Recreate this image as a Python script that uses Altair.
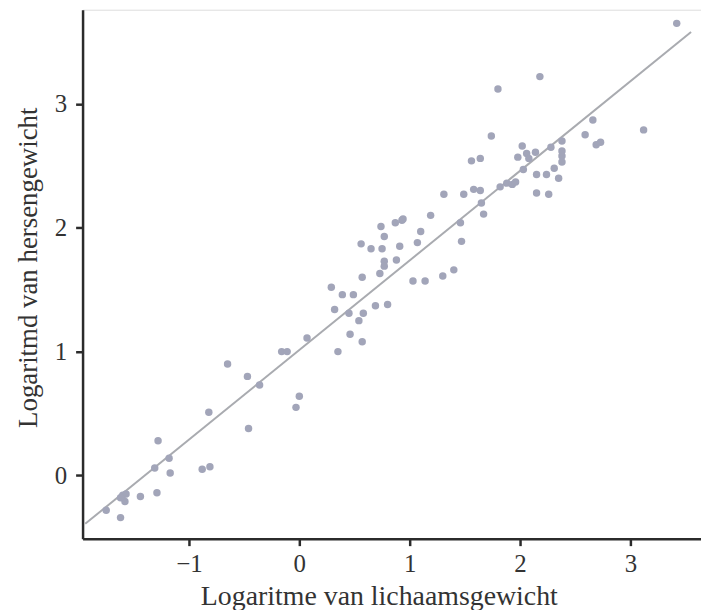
import altair as alt
import pandas as pd

# Log body weight (x) and log brain weight (y)
x_vals = [3.42, 2.18, 1.80, 1.74, 2.66, 2.59, 3.12, 2.69, 2.73, 2.38,
          2.02, 2.28, 1.98, 2.06, 2.14, 2.08, 2.38, 2.38, 2.38, 1.56,
          1.64, 2.03, 2.31, 2.15, 2.24, 2.35, 1.82, 1.88, 1.93, 1.96,
          2.15, 2.26, 1.31, 1.49, 1.58, 1.64, 1.65, 1.67, 1.46, 1.19,
          1.10, 1.07, 0.91, 0.87, 0.93, 0.94, 0.74, 0.77, 0.75, 0.77,
          0.77, 0.73, 0.88, 1.47, 1.40, 1.30, 1.03, 1.14, 0.56, 0.65,
          0.57, 0.29, 0.39, 0.49, 0.32, 0.45, 0.58, 0.69, 0.80, 0.54,
          0.46, 0.57, 0.35, 0.07, -0.16, -0.11, -0.65, -0.47, -0.36, 0.00,
          -0.03, -0.82, -0.46, -1.28, -1.18, -1.31, -1.17, -0.88, -0.81, -1.60,
          -1.57, -1.58, -1.62, -1.44, -1.29, -1.75, -1.62]
y_vals = [3.65, 3.22, 3.12, 2.74, 2.87, 2.75, 2.79, 2.67, 2.69, 2.70,
          2.66, 2.65, 2.57, 2.60, 2.61, 2.56, 2.62, 2.58, 2.53, 2.54,
          2.56, 2.47, 2.48, 2.43, 2.43, 2.40, 2.33, 2.36, 2.35, 2.37,
          2.28, 2.27, 2.27, 2.27, 2.31, 2.30, 2.20, 2.11, 2.04, 2.10,
          1.97, 1.88, 1.85, 2.04, 2.06, 2.07, 2.01, 1.93, 1.83, 1.73,
          1.69, 1.63, 1.74, 1.89, 1.66, 1.61, 1.57, 1.57, 1.87, 1.83,
          1.60, 1.52, 1.46, 1.46, 1.34, 1.31, 1.31, 1.37, 1.38, 1.25,
          1.14, 1.08, 1.00, 1.11, 1.00, 1.00, 0.90, 0.80, 0.73, 0.64,
          0.55, 0.51, 0.38, 0.28, 0.14, 0.06, 0.02, 0.05, 0.07, -0.16,
          -0.15, -0.21, -0.18, -0.17, -0.14, -0.28, -0.34]

# Fitted line endpoints as drawn
line_x = [-1.94, 3.55]
line_y = [-0.39, 3.58]

x_ticks = [-1, 0, 1, 2, 3]
y_ticks = [0, 1, 2, 3]

pts = pd.DataFrame({"x": x_vals, "y": y_vals})
ln = pd.DataFrame({"x": line_x, "y": line_y})

FONT = "Liberation Serif"
xs = alt.Scale(domain=[-1.964, 3.64], nice=False, zero=False)
ys = alt.Scale(domain=[-0.51, 3.76], nice=False, zero=False)

x_axis = alt.Axis(values=x_ticks, format="d", title="Logaritme van lichaamsgewicht",
                  grid=False, domainColor="#2b2b2b", domainWidth=2.5,
                  tickColor="#2b2b2b", tickWidth=2.5, tickSize=7,
                  labelFont=FONT, labelFontSize=25, labelColor="#333333",
                  labelPadding=6, titleFont=FONT, titleFontSize=28,
                  titleFontWeight="normal", titleColor="#333333",
                  titleX=298, titleY=58, titleBaseline="middle")
y_axis = alt.Axis(values=y_ticks, format="d", title="Logaritmd van hersengewicht",
                  grid=False, domainColor="#2b2b2b", domainWidth=2.5,
                  tickColor="#2b2b2b", tickWidth=2.5, tickSize=7,
                  labelFont=FONT, labelFontSize=25, labelColor="#333333",
                  labelPadding=9, titleFont=FONT, titleFontSize=27,
                  titleFontWeight="normal", titleColor="#333333",
                  titleX=-54, titleY=259, titleAngle=-90,
                  titleAlign="center", titleBaseline="middle")

points = alt.Chart(pts).mark_circle(size=56, color="#a2a5b9", opacity=1).encode(
    x=alt.X("x:Q", scale=xs, axis=x_axis),
    y=alt.Y("y:Q", scale=ys, axis=y_axis),
)
line = alt.Chart(ln).mark_line(color="#a9abb0", strokeWidth=2).encode(
    x=alt.X("x:Q", scale=xs),
    y=alt.Y("y:Q", scale=ys),
)

chart = alt.layer(line, points).properties(
    width=622, height=532,
    autosize=alt.AutoSizeParams(type="none"),
    padding={"left": 75, "top": 0, "right": 0, "bottom": 70},
).configure_view(stroke=None).configure(background="white")

chart.save("out.html", embed_options={"renderer": "svg", "actions": False})
